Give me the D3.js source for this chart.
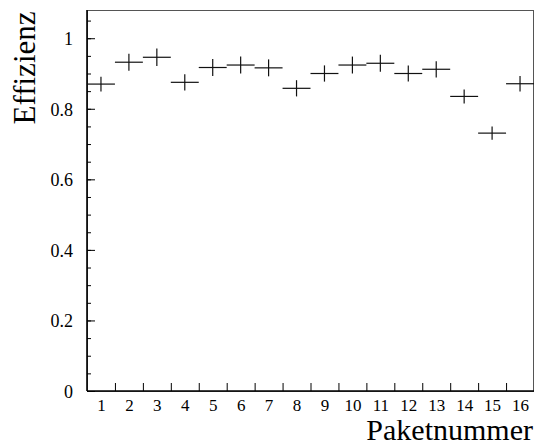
<!DOCTYPE html>
<html>
<head>
<meta charset="utf-8">
<script src="https://cdn.jsdelivr.net/npm/d3@7"></script>
<style>
  body { margin: 0; background: #fff; }
  svg text { font-family: "Liberation Serif", "Times New Roman", serif; fill: #000; }
</style>
</head>
<body>
<div id="graph"></div>
<script>
// Effizienz pro Paket
const pakete = [1, 2, 3, 4, 5, 6, 7, 8, 9, 10, 11, 12, 13, 14, 15, 16];
const effizienz = [0.870, 0.932, 0.946, 0.875, 0.917, 0.924, 0.916, 0.858,
                   0.900, 0.924, 0.929, 0.900, 0.912, 0.835, 0.731, 0.871];
const fehler = [0.021, 0.024, 0.025, 0.023, 0.024, 0.024, 0.024, 0.023,
                0.023, 0.024, 0.024, 0.023, 0.023, 0.020, 0.019, 0.022];
const yTicks = [0, 0.2, 0.4, 0.6, 0.8, 1];

const width = 537, height = 444;
const margin = {top: 10, right: 3, bottom: 53, left: 87};

let svg = d3.select("#graph")
    .append("svg")
    .attr("width", width)
    .attr("height", height);

let x = d3.scaleLinear()
    .domain([0.5, 16.5])
    .range([margin.left, width - margin.right]);

let y = d3.scaleLinear()
    .domain([0, 1.08])
    .range([height - margin.bottom, margin.top]);

// frame
svg.append("rect")
    .attr("x", x(0.5) + 0.5)
    .attr("y", y(1.08) + 0.5)
    .attr("width", x(16.5) - x(0.5) - 1)
    .attr("height", y(0) - y(1.08))
    .attr("fill", "none")
    .attr("stroke", "#555")
    .attr("stroke-width", 1);

// y axis: major + minor ticks pointing inward
let minor = d3.range(0, 1.08, 0.05);
svg.append("g")
    .attr("transform", `translate(${x(0.5)}, 0)`)
    .call(d3.axisLeft(y).tickValues(minor).tickSize(-4).tickFormat(""))
    .call(g => g.select(".domain").remove());

svg.append("g")
    .attr("transform", `translate(${x(0.5)}, 0)`)
    .call(d3.axisLeft(y).tickValues(yTicks).tickSize(-8).tickPadding(14)
          .tickFormat(d => d3.format("")(d)))
    .call(g => g.select(".domain").remove())
    .call(g => g.selectAll("text").style("font-size", "18px")
          .attr("x", -14).attr("dy", "0.36em"));

// x axis: ticks at bin edges, labels at bin centers
let edges = pakete.slice(0, -1).map(d => d + 0.5);
svg.append("g")
    .attr("transform", `translate(0, ${y(0)})`)
    .call(d3.axisBottom(x).tickValues(edges).tickSize(-8).tickFormat(""))
    .call(g => g.select(".domain").remove());

svg.append("g")
    .attr("transform", `translate(0, ${y(0)})`)
    .call(d3.axisBottom(x).tickValues(pakete).tickSize(0).tickPadding(8))
    .call(g => g.select(".domain").remove())
    .call(g => g.selectAll("text").style("font-size", "17px"));

// axis lines
svg.append("line")
    .attr("x1", x(0.5)).attr("x2", x(0.5))
    .attr("y1", y(0)).attr("y2", y(1.08))
    .attr("stroke", "#000").attr("stroke-width", 1.6);
svg.append("line")
    .attr("x1", x(0.5)).attr("x2", x(16.5))
    .attr("y1", y(0)).attr("y2", y(0))
    .attr("stroke", "#000").attr("stroke-width", 1.6);

// data points: horizontal bin width + vertical error bar
let pts = svg.append("g");
pakete.forEach(function(p, i) {
    pts.append("line")
        .attr("x1", x(p - 0.5)).attr("x2", x(p + 0.5))
        .attr("y1", y(effizienz[i])).attr("y2", y(effizienz[i]))
        .attr("stroke", "#111").attr("stroke-width", 1.2);
    pts.append("line")
        .attr("x1", x(p)).attr("x2", x(p))
        .attr("y1", y(effizienz[i] - fehler[i])).attr("y2", y(effizienz[i] + fehler[i]))
        .attr("stroke", "#111").attr("stroke-width", 1.2);
});

// axis titles
svg.append("text")
    .attr("transform", `translate(35, 68) rotate(-90)`)
    .style("text-anchor", "middle")
    .style("font-size", "31px")
    .text("Effizienz");

svg.append("text")
    .attr("x", 533)
    .attr("y", 440)
    .style("text-anchor", "end")
    .style("font-size", "30px")
    .text("Paketnummer");
</script>
</body>
</html>
